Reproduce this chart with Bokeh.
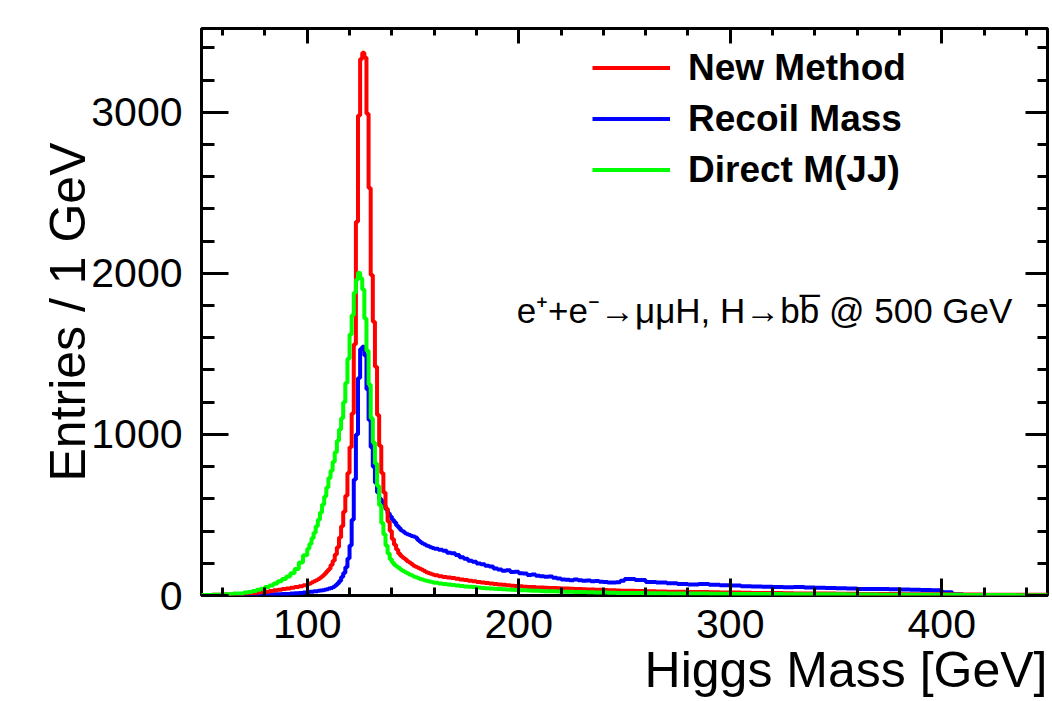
from bokeh.plotting import figure
from bokeh.models import (Range1d, LinearAxis, SingleIntervalTicker, Legend, LegendItem,
                          Label, Title, CustomJSTickFormatter)
from bokeh.embed import file_html
from bokeh.resources import INLINE

# ---------------- data ----------------
# bin low edges (GeV); last value is the upper edge of the last bin
bin_edges = ([50, 55, 60, 65] + list(range(70, 100, 2)) + list(range(100, 160))
             + list(range(160, 250, 2)) + list(range(250, 451, 5)))

# New Method (red)
new_method = ([2, 4, 6, 9]
              + [12, 14, 16, 18, 21, 24, 28, 32, 36, 40, 44, 48, 53, 58, 63]
              + [70, 75, 82, 88, 95, 103, 112, 122, 135, 150,
                 165, 190, 215, 255, 300, 360, 430, 520, 620, 760,
                 920, 1130, 1560, 2320, 2980, 3330, 3370, 3340, 2990, 2530,
                 1990, 1700, 1420, 1120, 930, 760, 640, 540, 460, 400,
                 350, 315, 285, 260, 245, 235, 225, 212, 205, 195,
                 185, 178, 172, 166, 160, 152, 145, 140, 135, 130]
              + [126, 120, 115, 112, 108, 104, 100, 96, 92, 88,
                 84, 80, 77, 74, 71, 68, 66, 63, 61, 59,
                 57, 55, 53, 52, 50, 49, 48, 47, 46, 45,
                 44, 43, 42, 41, 40, 39, 38, 37, 36, 35,
                 34, 33, 32, 31, 30]
              + [29, 28, 26, 25, 24, 23, 22, 21, 20, 19,
                 18, 17, 16, 16, 15, 14, 13, 13, 12, 12,
                 11, 11, 10, 10, 9, 9, 8, 8, 8, 7,
                 7, 6, 6, 6, 5, 5, 5, 4, 4, 4])

# Recoil Mass (blue)
recoil_mass = ([0, 0, 1, 1]
               + [2, 2, 3, 3, 4, 5, 6, 7, 8, 9, 10, 12, 14, 16, 19]
               + [22, 23, 24, 26, 27, 29, 31, 33, 36, 39,
                  43, 47, 53, 62, 74, 90, 115, 140, 175, 230,
                  310, 470, 720, 1000, 1350, 1530, 1545, 1490, 1280, 1090,
                  920, 800, 700, 640, 600, 585, 560, 535, 510, 490,
                  470, 455, 435, 420, 405, 398, 386, 380, 376, 370,
                  366, 360, 345, 333, 325, 318, 310, 305, 300, 295]
               + [290, 284, 278, 266, 262, 252, 238, 228, 216, 210,
                  198, 194, 184, 180, 168, 162, 154, 156, 146, 148,
                  138, 136, 128, 130, 122, 120, 116, 118, 110, 106,
                  100, 98, 94, 99, 95, 92, 93, 88, 90, 85,
                  84, 80, 80, 82, 92]
               + [102, 96, 84, 80, 76, 72, 68, 72, 66, 64,
                  62, 58, 56, 54, 53, 51, 52, 50, 48, 46,
                  45, 43, 41, 40, 40, 39, 37, 36, 34, 32,
                  20, 8, 3, 1, 0, 0, 0, 0, 0, 0])

# Direct M(JJ) (green)
direct_mjj = ([3, 5, 8, 12]
              + [18, 22, 28, 35, 42, 52, 62, 75, 88, 102, 118, 138, 165, 205, 250]
              + [290, 320, 355, 390, 430, 470, 515, 565, 615, 670,
                 730, 775, 830, 890, 960, 1030, 1100, 1200, 1320, 1470,
                 1620, 1740, 1880, 1960, 2004, 1970, 1900, 1720, 1520, 1310,
                 1100, 950, 820, 680, 560, 450, 380, 310, 260, 225,
                 205, 190, 180, 170, 160, 152, 145, 138, 130, 125,
                 118, 113, 108, 103, 99, 95, 92, 88, 85, 82]
              + [79, 75, 72, 68, 65, 62, 59, 56, 54, 52,
                 49, 47, 45, 44, 42, 40, 39, 37, 35, 34,
                 33, 32, 31, 30, 29, 28, 27, 26, 26, 25,
                 24, 24, 23, 22, 22, 21, 20, 20, 19, 18,
                 18, 17, 17, 16, 16]
              + [15, 15, 14, 14, 13, 13, 12, 12, 11, 11,
                 10, 10, 9, 9, 9, 8, 8, 8, 7, 7,
                 7, 6, 6, 6, 5, 5, 5, 5, 4, 4,
                 4, 4, 3, 3, 3, 3, 3, 2, 2, 2])

series_names = ["New Method", "Recoil Mass", "Direct M(JJ)"]
x_title = "Higgs Mass [GeV]"
y_title = "Entries / 1 GeV"
annotation = "e\u207a+e\u207b\u2192\u03bc\u03bcH, H\u2192bb\u0305 @ 500 GeV"

# ---------------- figure ----------------
FONT = "Liberation Sans"
p = figure(width=1052, height=701, x_range=Range1d(50, 450), y_range=Range1d(0, 3520),
           output_backend="svg", toolbar_location=None,
           x_axis_type=None, y_axis_type=None,
           min_border_left=201, min_border_right=5, min_border_top=28, min_border_bottom=106)
p.outline_line_color = "black"
p.outline_line_width = 3
p.background_fill_color = "white"
p.border_fill_color = "white"


def style_axis(ax, major_in, minor_in, show_labels=True):
    ax.axis_line_color = None
    ax.major_tick_in = major_in
    ax.minor_tick_in = minor_in
    ax.major_tick_out = 0
    ax.minor_tick_out = 0
    ax.major_tick_line_width = 3
    ax.minor_tick_line_width = 3
    ax.major_tick_line_color = "black"
    ax.minor_tick_line_color = "black"
    ax.major_label_text_font = FONT
    ax.major_label_text_font_size = "41px"
    ax.major_label_text_color = "black"
    if not show_labels:
        ax.formatter = CustomJSTickFormatter(code="return ''")
        ax.major_label_text_font_size = "0px"
        ax.major_label_standoff = 0


xb = LinearAxis(ticker=SingleIntervalTicker(interval=100, num_minor_ticks=5))
style_axis(xb, 17, 8)
xb.major_label_standoff = 14
p.add_layout(xb, "below")

xt = LinearAxis(ticker=SingleIntervalTicker(interval=100, num_minor_ticks=5))
style_axis(xt, 15, 7, show_labels=False)
p.add_layout(xt, "above")

yl = LinearAxis(ticker=SingleIntervalTicker(interval=1000, num_minor_ticks=5))
style_axis(yl, 27, 13)
yl.major_label_standoff = 19
yl.axis_label = y_title
yl.axis_label_text_font = FONT
yl.axis_label_text_font_style = "normal"
yl.axis_label_text_font_size = "50px"
yl.axis_label_text_color = "black"
yl.axis_label_standoff = -8
p.add_layout(yl, "left")

yr = LinearAxis(ticker=SingleIntervalTicker(interval=1000, num_minor_ticks=5))
style_axis(yr, 22, 10, show_labels=False)
p.add_layout(yr, "right")

# x-axis title, right-aligned to the frame
p.add_layout(Title(text=x_title, align="right", text_font=FONT, text_font_size="50px",
                   text_font_style="normal", text_color="black", standoff=-1, offset=0),
             "below")


def steps(vals):
    return list(vals) + [vals[-1]]


r_blue = p.step(x=bin_edges, y=steps(recoil_mass), mode="after", line_color="#0000ff", line_width=4)
r_red = p.step(x=bin_edges, y=steps(new_method), mode="after", line_color="#ff0000", line_width=4)
r_green = p.step(x=bin_edges, y=steps(direct_mjj), mode="after", line_color="#00ff00", line_width=4)

legend = Legend(items=[LegendItem(label=series_names[0], renderers=[r_red]),
                       LegendItem(label=series_names[1], renderers=[r_blue]),
                       LegendItem(label=series_names[2], renderers=[r_green])],
                location=(391, 400), glyph_width=78, glyph_height=51, label_height=51,
                label_standoff=18, spacing=0, padding=0, margin=0,
                label_text_font=FONT, label_text_font_style="bold", label_text_font_size="37px",
                label_text_color="black", background_fill_alpha=0, border_line_alpha=0)
p.add_layout(legend)

p.add_layout(Label(x=199, y=1768, text=annotation, text_font=FONT, text_font_size="35px",
                   text_color="black", text_baseline="alphabetic", text_align="left"))

open("out.html", "w").write(file_html(p, INLINE))
